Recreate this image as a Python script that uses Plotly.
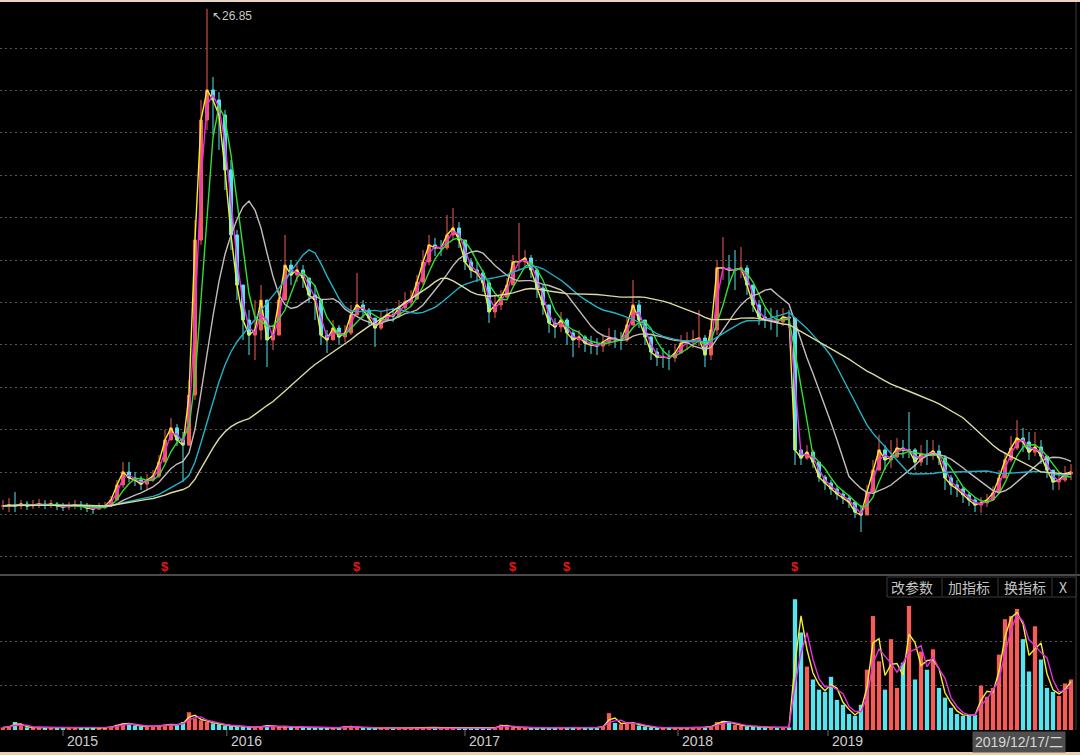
import numpy as np
import pandas as pd
import plotly.graph_objects as go

# ---------------- data (one bar ≈ 6 trading days) ----------------
close = [3.40, 3.44, 3.40, 3.49, 3.40, 3.44, 3.49, 3.44, 3.49, 3.40,
         3.35, 3.40, 3.44, 3.40, 3.30, 3.25, 3.35, 3.40, 3.68, 4.39,
         5.00, 4.72, 4.62, 4.43, 4.62, 4.81, 5.47, 6.51, 7.08, 6.51,
         6.27, 8.63, 15.94, 21.60, 23.02, 22.55, 21.84, 19.25, 16.18, 13.82,
         12.17, 11.46, 11.70, 13.11, 11.23, 11.46, 13.11, 14.76, 14.29, 14.53,
         14.15, 13.35, 13.11, 11.46, 11.23, 11.79, 11.37, 11.56, 12.41, 12.88,
         12.64, 12.26, 11.79, 12.17, 12.41, 12.36, 12.74, 13.02, 13.16, 13.96,
         14.91, 15.71, 15.57, 15.57, 16.18, 16.51, 15.94, 14.91, 14.53, 14.39,
         13.92, 12.55, 12.88, 13.25, 13.82, 14.91, 14.91, 15.09, 14.53, 13.68,
         12.88, 12.03, 11.84, 12.17, 11.56, 11.23, 11.37, 11.08, 10.99, 10.94,
         11.13, 11.32, 11.23, 11.23, 11.93, 12.88, 12.17, 11.37, 10.66, 10.42,
         10.42, 10.38, 10.61, 11.08, 11.13, 11.23, 11.32, 10.52, 11.70, 14.62,
         14.62, 14.53, 14.53, 14.62, 13.82, 12.88, 12.31, 12.17, 12.17, 12.08,
         12.31, 12.26, 6.04, 5.66, 5.94, 5.47, 4.76, 4.48, 4.20, 3.96,
         3.77, 3.58, 3.11, 2.97, 4.06, 5.09, 6.04, 5.57, 5.71, 6.13,
         6.04, 6.04, 5.47, 5.85, 5.80, 5.99, 5.66, 4.72, 4.39, 4.20,
         3.92, 3.68, 3.44, 3.54, 3.68, 4.01, 4.72, 5.57, 6.13, 6.60,
         6.42, 5.94, 6.18, 5.75, 5.09, 4.53, 4.62, 4.91, 5.00]

high = [3.68, 3.77, 4.06, 3.68, 3.63, 3.68, 3.73, 3.68, 3.68, 3.58,
        3.54, 3.58, 3.68, 3.63, 3.54, 3.44, 3.54, 3.58, 3.87, 4.62,
        5.47, 5.47, 5.00, 4.81, 4.91, 5.09, 5.80, 6.98, 7.55, 7.26,
        6.89, 9.34, 16.89, 22.55, 26.85, 23.63, 22.92, 22.08, 19.72, 16.42,
        13.58, 12.64, 13.11, 13.82, 13.11, 11.93, 13.58, 16.18, 15.00, 14.91,
        14.76, 14.06, 13.82, 13.11, 11.70, 12.17, 11.93, 11.93, 12.88, 14.39,
        13.11, 12.74, 12.26, 12.55, 12.74, 12.74, 13.11, 13.49, 13.58, 14.29,
        15.47, 16.18, 16.04, 15.94, 17.12, 17.45, 16.79, 15.94, 15.09, 14.91,
        14.53, 14.06, 13.35, 13.58, 14.15, 15.24, 16.75, 15.47, 15.24, 14.62,
        13.82, 12.88, 12.26, 12.55, 12.26, 11.70, 11.70, 11.46, 11.42, 11.32,
        11.51, 11.79, 11.70, 11.60, 12.26, 14.06, 13.11, 12.17, 11.42, 10.85,
        10.85, 10.75, 11.04, 11.46, 11.60, 11.70, 12.64, 11.46, 12.17, 15.00,
        16.08, 15.24, 15.47, 15.61, 14.76, 13.82, 13.11, 12.74, 12.74, 12.64,
        12.74, 12.64, 12.17, 6.04, 6.27, 6.04, 5.33, 4.86, 4.62, 4.34,
        4.15, 3.92, 3.58, 3.44, 4.39, 5.57, 6.75, 6.27, 6.51, 6.60,
        6.51, 7.83, 6.13, 6.27, 6.51, 6.51, 6.27, 5.80, 4.86, 4.62,
        4.29, 4.06, 3.82, 3.82, 3.96, 4.34, 5.09, 5.94, 6.70, 7.45,
        7.08, 6.89, 6.89, 6.51, 5.66, 5.09, 5.00, 5.28, 5.38]

low = [3.21, 3.11, 3.11, 3.25, 3.21, 3.25, 3.30, 3.25, 3.30, 3.21,
       3.16, 3.21, 3.25, 3.21, 3.11, 3.02, 3.21, 3.25, 3.35, 3.68,
       4.25, 4.53, 4.34, 4.15, 4.15, 4.53, 4.72, 5.47, 6.51, 6.23,
       4.53, 6.23, 8.40, 15.71, 21.13, 20.90, 20.19, 18.30, 15.47, 13.11,
       11.23, 10.52, 10.28, 11.23, 9.95, 10.75, 11.46, 13.11, 13.82, 13.96,
       13.68, 12.97, 12.17, 10.99, 10.61, 11.23, 10.99, 11.13, 11.46, 12.41,
       12.26, 11.93, 10.90, 11.70, 12.08, 12.08, 12.26, 12.64, 12.83, 13.11,
       13.82, 14.76, 15.19, 15.19, 15.47, 15.94, 15.57, 14.53, 14.15, 13.96,
       13.49, 12.03, 12.26, 12.64, 13.21, 13.82, 14.53, 14.62, 14.15, 13.21,
       12.41, 11.56, 11.32, 11.60, 10.99, 10.42, 10.85, 10.66, 10.57, 10.52,
       10.66, 10.94, 10.85, 10.75, 11.13, 11.93, 11.79, 10.99, 10.28, 10.00,
       9.91, 9.81, 10.19, 10.66, 10.75, 10.85, 10.94, 9.95, 10.28, 11.46,
       14.06, 13.82, 13.58, 14.15, 13.35, 12.55, 11.93, 11.79, 11.70, 11.37,
       11.89, 11.79, 5.33, 5.33, 5.57, 5.19, 4.53, 4.15, 3.92, 3.68,
       3.49, 3.30, 2.83, 2.17, 3.21, 4.15, 5.19, 5.09, 5.19, 5.66,
       5.66, 5.66, 5.09, 5.28, 5.33, 5.57, 5.33, 4.15, 3.92, 3.82,
       3.54, 3.40, 3.11, 3.07, 3.35, 3.68, 3.96, 4.72, 5.47, 6.04,
       5.94, 5.57, 5.75, 5.38, 4.72, 4.15, 4.15, 4.53, 4.62]

volume = [0.6, 0.8, 1.8, 0.9, 0.6, 0.5, 0.7, 0.5, 0.6, 0.5,
          0.5, 0.6, 0.4, 0.5, 0.5, 0.4, 0.5, 0.5, 0.8, 1.2,
          1.5, 1.4, 1.0, 0.8, 0.9, 0.8, 1.0, 1.2, 1.3, 1.1,
          1.8, 4.0, 2.6, 2.2, 1.8, 1.5, 1.3, 1.0, 0.9, 0.8,
          0.7, 0.7, 0.6, 0.9, 1.0, 0.8, 0.7, 0.9, 0.7, 0.6,
          0.6, 0.5, 0.5, 0.5, 0.5, 0.5, 0.5, 0.9, 0.7, 0.6,
          0.5, 0.5, 0.5, 0.4, 0.4, 0.5, 0.4, 0.5, 0.5, 0.5,
          0.6, 0.6, 0.5, 0.5, 0.5, 0.6, 0.5, 0.5, 0.4, 0.4,
          0.4, 0.5, 0.5, 1.2, 0.8, 0.6, 0.6, 0.5, 0.5, 0.5,
          0.5, 0.5, 0.4, 0.4, 0.5, 0.5, 0.4, 0.5, 0.5, 0.6,
          0.8, 3.8, 1.6, 1.3, 1.8, 1.5, 1.0, 0.8, 0.6, 0.5,
          0.5, 0.5, 0.5, 0.5, 0.5, 0.5, 0.6, 0.7, 0.8, 1.8,
          2.0, 1.6, 1.2, 1.0, 0.8, 0.8, 0.7, 0.6, 0.6, 0.6,
          0.6, 0.6, 29.5, 22.0, 14.3, 11.4, 9.1, 8.6, 12.0, 6.8,
          5.7, 3.6, 3.2, 5.7, 13.6, 25.7, 15.5, 9.1, 20.5, 9.5,
          15.2, 28.0, 11.4, 17.7, 13.6, 18.2, 9.5, 7.3, 5.0, 3.6,
          3.2, 3.4, 3.4, 10.0, 7.5, 9.5, 17.0, 25.0, 25.7, 27.3,
          20.5, 13.2, 23.4, 15.9, 9.5, 8.6, 7.7, 10.5, 11.4]

year_labels = ["2015", "2016", "2017", "2018", "2019"]
year_start_bar = [10, 37.3, 77, 112.5, 137.5]
event_bars = [27, 59, 85, 94, 132]
last_date = "2019/12/17/二"
buttons = ["改参数", "加指标", "换指标", "X"]

ma_windows = [1, 2, 4, 10, 20, 42]   # ≈ MA5, MA10, MA20, MA60, MA120, MA250 (daily)
ma_colors = ["#f4ee2c", "#e52ee5", "#2fe02f", "#c4bcbc", "#22b2c6", "#dcdca0"]
vol_ma_windows = [2, 3]
vol_ma_colors = ["#f4ee2c", "#e52ee5"]

UP = "#f45c58"
DOWN = "#56e4ee"

# ---------------- derived ----------------
n = len(close)
idx = np.arange(n)
opn = [close[0]] + close[:-1]
hi = np.maximum.reduce([np.array(high), np.array(opn), np.array(close)])
lo = np.minimum.reduce([np.array(low), np.array(opn), np.array(close)])
cs = pd.Series(close)
vs = pd.Series(volume)
vol_colors = [UP if c >= o else DOWN for c, o in zip(close, opn)]

W, H = 1080, 755
def yp(py):
    return 1 - py / H
def xp(px):
    return px / W

PLOT_R = 1075
x_lo = -0.5
x_hi = (PLOT_R - 3) / 6.0
GRID_DASH = "2px,3px"

fig = go.Figure()

fig.add_trace(go.Candlestick(
    x=idx, open=opn, high=hi, low=lo, close=close,
    increasing=dict(line=dict(color=UP, width=1), fillcolor=UP),
    decreasing=dict(line=dict(color=DOWN, width=1), fillcolor=DOWN),
    whiskerwidth=0, showlegend=False, hoverinfo="skip",
    xaxis="x", yaxis="y"))

for w, c in zip(ma_windows, ma_colors):
    fig.add_trace(go.Scatter(
        x=idx, y=cs.rolling(w, min_periods=1).mean(), mode="lines",
        line=dict(color=c, width=1.4), showlegend=False, hoverinfo="skip",
        xaxis="x", yaxis="y"))

fig.add_trace(go.Bar(
    x=idx, y=volume, marker=dict(color=vol_colors, line=dict(width=0)),
    width=0.72, showlegend=False, hoverinfo="skip", xaxis="x2", yaxis="y2"))

for w, c in zip(vol_ma_windows, vol_ma_colors):
    fig.add_trace(go.Scatter(
        x=idx, y=vs.rolling(w, min_periods=1).mean(), mode="lines",
        line=dict(color=c, width=1.4), showlegend=False, hoverinfo="skip",
        xaxis="x2", yaxis="y2"))

price_top = (578 - 0) / 21.2
price_bot = (578 - 575) / 21.2
grid_prices = list(range(1, 27, 2))

fig.update_layout(
    width=W, height=H,
    margin=dict(l=0, r=0, t=0, b=0),
    paper_bgcolor="#000000", plot_bgcolor="#000000",
    font=dict(family="Liberation Sans, Arial", color="#c8c8c8"),
    xaxis=dict(domain=[0, xp(PLOT_R)], range=[x_lo, x_hi], showticklabels=False,
               showgrid=False, zeroline=False, rangeslider=dict(visible=False),
               anchor="y", fixedrange=True),
    yaxis=dict(domain=[yp(575), 1], range=[price_bot, price_top],
               tickvals=grid_prices, showticklabels=False, showgrid=True,
               gridcolor="#555555", griddash=GRID_DASH, gridwidth=1, zeroline=False),
    xaxis2=dict(domain=[0, xp(PLOT_R)], range=[x_lo, x_hi], matches="x",
                showticklabels=False, showgrid=False, zeroline=False, anchor="y2"),
    yaxis2=dict(domain=[yp(730), yp(597)], range=[0, 30],
                tickvals=[10, 20, 30], showticklabels=False, showgrid=True,
                gridcolor="#555555", griddash=GRID_DASH, gridwidth=1, zeroline=False),
    bargap=0.2,
)

shapes = []
# panel separator and header frame
shapes.append(dict(type="line", xref="paper", yref="paper", x0=0, x1=1,
                   y0=yp(575), y1=yp(575), line=dict(color="#4a4a4a", width=2)))
shapes.append(dict(type="line", xref="paper", yref="paper", x0=xp(1076), x1=xp(1076),
                   y0=yp(0), y1=yp(730), line=dict(color="#3c3c3c", width=1)))
shapes.append(dict(type="rect", xref="paper", yref="paper", x0=xp(887), x1=xp(1076),
                   y0=yp(597), y1=yp(577), line=dict(color="#3a3a3a", width=1),
                   fillcolor="#000000"))
for sx in [942, 998, 1052]:
    shapes.append(dict(type="line", xref="paper", yref="paper", x0=xp(sx), x1=xp(sx),
                       y0=yp(596), y1=yp(578), line=dict(color="#3a3a3a", width=1)))
# borders top/bottom
shapes.append(dict(type="rect", xref="paper", yref="paper", x0=0, x1=1,
                   y0=yp(2), y1=1, line=dict(width=0), fillcolor="#edd3c2"))
shapes.append(dict(type="rect", xref="paper", yref="paper", x0=0, x1=1,
                   y0=0, y1=yp(752), line=dict(width=0), fillcolor="#e8d0b6"))
# year ticks
for b in year_start_bar:
    shapes.append(dict(type="line", xref="x", yref="paper", x0=b, x1=b,
                       y0=yp(730), y1=yp(736), line=dict(color="#707070", width=1)))
fig.update_layout(shapes=shapes)

ann = []
for b, lab in zip(year_start_bar, year_labels):
    ann.append(dict(x=b, xref="x", y=yp(741), yref="paper", text=lab,
                    showarrow=False, xanchor="left", yanchor="middle", xshift=2,
                    font=dict(size=14, color="#cfcfcf")))
for b in event_bars:
    ann.append(dict(x=b, xref="x", y=yp(566), yref="paper", text="<b>$</b>",
                    showarrow=False, xanchor="center", yanchor="middle",
                    font=dict(size=13, color="#e01818")))
kmax = int(np.argmax(hi))
ann.append(dict(x=kmax, xref="x", y=hi[kmax], yref="y", text="↖%.2f" % hi[kmax],
                showarrow=False, xanchor="left", yanchor="middle", xshift=3, yshift=-7,
                font=dict(size=12, color="#c8c8c8")))
btn_x = [912, 969, 1025, 1063]
for bx, t in zip(btn_x, buttons):
    ann.append(dict(x=xp(bx), xref="paper", y=yp(587), yref="paper", text=t,
                    showarrow=False, xanchor="center", yanchor="middle",
                    font=dict(size=14, color="#c4c4c4",
                              family="Noto Sans CJK SC, Liberation Sans")))
ann.append(dict(x=xp(1019), xref="paper", y=yp(742), yref="paper", text=last_date,
                showarrow=False, xanchor="center", yanchor="middle",
                bgcolor="#4e4e4e", borderpad=2,
                font=dict(size=14, color="#d8d8d8",
                          family="Liberation Sans, Noto Sans CJK SC")))
fig.update_layout(annotations=ann)

fig.write_html("out.html",
               config={"displayModeBar": False},
               post_script="document.body.style.margin='0px';document.body.style.overflow='hidden';")
